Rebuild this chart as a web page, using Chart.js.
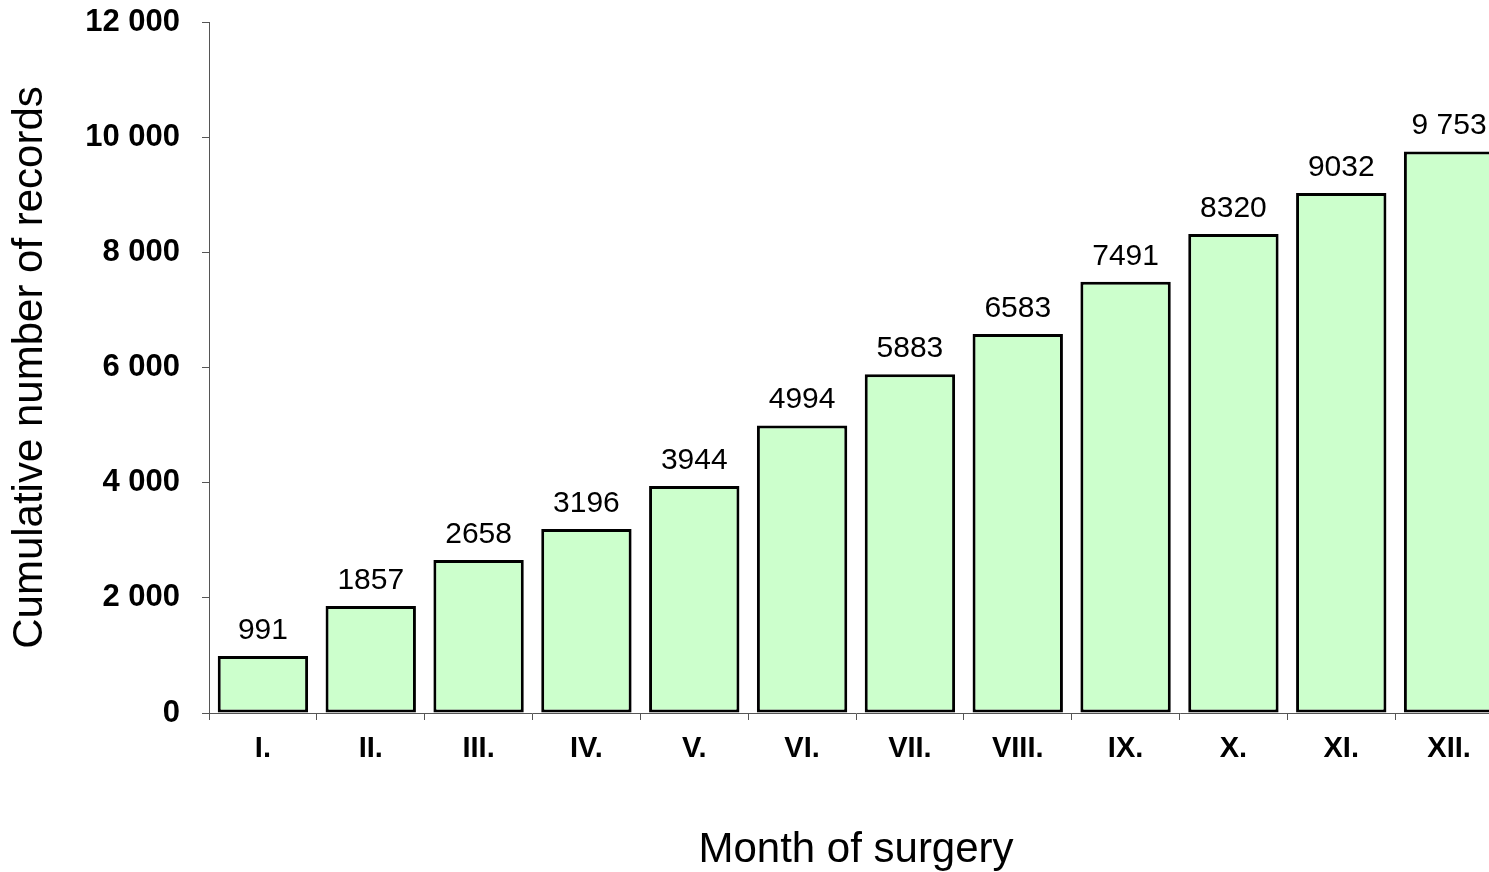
<!DOCTYPE html>
<html>
<head>
<meta charset="utf-8">
<script src="https://cdn.jsdelivr.net/npm/chart.js@4"></script>
<style>
  html, body { margin: 0; padding: 0; background: #fff; overflow: hidden; }
  #wrap { position: relative; width: 1510px; height: 872px; }
</style>
</head>
<body>
<div id="wrap"><canvas id="myBarChart"></canvas></div>
<script>
const months = ['I.', 'II.', 'III.', 'IV.', 'V.', 'VI.', 'VII.', 'VIII.', 'IX.', 'X.', 'XI.', 'XII.'];
const cumulativeRecords = [991, 1857, 2658, 3196, 3944, 4994, 5883, 6583, 7491, 8320, 9032, 9753];
const valueLabels = ['991', '1857', '2658', '3196', '3944', '4994', '5883', '6583', '7491', '8320', '9032', '9 753'];
const yTicks = [0, 2000, 4000, 6000, 8000, 10000, 12000];

const fontFamily = '"Liberation Sans", Arial, sans-serif';

function spaced(v) {
  return String(v).replace(/\B(?=(\d{3})+(?!\d))/g, ' ');
}

// labels above each bar
const valueLabelPlugin = {
  id: 'valueLabels',
  afterDatasetsDraw(chart) {
    const ctx = chart.ctx;
    const meta = chart.getDatasetMeta(0);
    ctx.save();
    ctx.font = '30px ' + fontFamily;
    ctx.fillStyle = '#000';
    ctx.textAlign = 'center';
    ctx.textBaseline = 'alphabetic';
    meta.data.forEach((bar, i) => {
      ctx.fillText(valueLabels[i], bar.x, bar.y - 17);
    });
    ctx.restore();
  }
};

var ctx = document.getElementById('myBarChart').getContext('2d');

var myBarChart = new Chart(ctx, {
  type: 'bar',
  data: {
    labels: months,
    datasets: [{
      data: cumulativeRecords,
      backgroundColor: '#CCFFCC',
      borderColor: '#000000',
      borderWidth: 3,
      borderSkipped: false,
      categoryPercentage: 1,
      barPercentage: 0.838
    }]
  },
  options: {
    responsive: true,
    maintainAspectRatio: false,
    animation: false,
    layout: { padding: { top: 22, right: 7, bottom: 0, left: 0 } },
    plugins: {
      legend: { display: false },
      tooltip: { enabled: false }
    },
    scales: {
      x: {
        afterFit(scale) {
          scale.height = 159;
          scale.paddingLeft = 0;
          scale.paddingRight = 0;
        },
        grid: {
          offset: true,
          drawOnChartArea: false,
          drawTicks: true,
          tickLength: 7,
          color: '#555'
        },
        border: { display: true, color: '#555', width: 1 },
        ticks: {
          padding: 12,
          color: '#000',
          maxRotation: 0,
          font: { family: fontFamily, size: 29, weight: 'bold' }
        },
        title: {
          display: true,
          text: 'Month of surgery',
          color: '#000',
          padding: { top: 0, bottom: 1 },
          font: { family: fontFamily, size: 42, lineHeight: 1 }
        }
      },
      y: {
        min: 0,
        max: 12000,
        afterFit(scale) {
          scale.width = 209;
          scale.paddingTop = 0;
          scale.paddingBottom = 0;
        },
        afterBuildTicks(scale) { scale.ticks = yTicks.map(v => ({ value: v })); },
        grid: {
          drawOnChartArea: false,
          drawTicks: true,
          tickLength: 7,
          color: '#555'
        },
        border: { display: true, color: '#555', width: 1 },
        ticks: {
          padding: 22,
          color: '#000',
          font: { family: fontFamily, size: 31, weight: 'bold' },
          callback: v => spaced(v)
        },
        title: {
          display: true,
          text: 'Cumulative number of records',
          color: '#000',
          padding: { top: 9, bottom: 0 },
          font: { family: fontFamily, size: 42, lineHeight: 1 }
        }
      }
    }
  },
  plugins: [valueLabelPlugin]
});
</script>
</body>
</html>
